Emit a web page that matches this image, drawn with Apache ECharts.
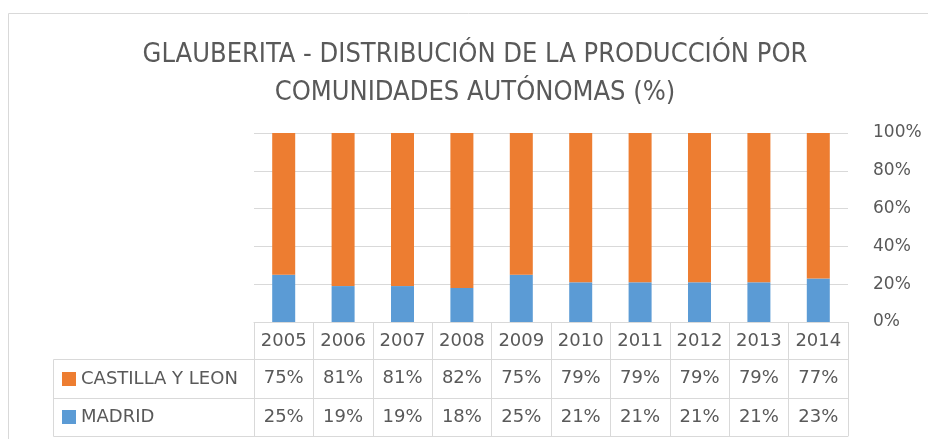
<!DOCTYPE html>
<html>
<head>
<meta charset="utf-8">
<script src="https://cdn.jsdelivr.net/npm/echarts@6/dist/echarts.min.js"></script>
<style>
  html, body { margin: 0; padding: 0; background: #fff; }
  #chart { width: 928px; height: 439px; }
</style>
</head>
<body>
<div id="chart"></div>
<script>
// datos
const years = ["2005", "2006", "2007", "2008", "2009", "2010", "2011", "2012", "2013", "2014"];
const madrid = [25, 19, 19, 18, 25, 21, 21, 21, 21, 23];
const castilla = [75, 81, 81, 82, 75, 79, 79, 79, 79, 77];
const yTicks = [0, 20, 40, 60, 80, 100];

const TXT = "#595959";
const LINE = "#d9d9d9";
const FONT = "DejaVu Sans";

const chart = echarts.init(document.getElementById("chart"));

// ejes x apilados hacia abajo para formar la tabla de datos
function tableAxis(offset, values, showTicks) {
  return {
    type: "category",
    data: years,
    position: "bottom",
    offset: offset,
    axisLine: { show: true, lineStyle: { color: LINE, width: 1 } },
    axisTick: {
      show: showTicks,
      length: 114,
      lineStyle: { color: LINE, width: 1 }
    },
    axisLabel: values
      ? {
          show: true,
          margin: 10,
          color: TXT,
          fontFamily: FONT,
          fontSize: 18,
          interval: 0,
          formatter: (v, i) => values[i]
        }
      : { show: false },
    splitLine: { show: false }
  };
}

chart.setOption({
  animation: false,
  color: ["#5B9BD5", "#ED7D31"],
  title: {
    text: "GLAUBERITA - DISTRIBUCIÓN DE LA PRODUCCIÓN POR\nCOMUNIDADES AUTÓNOMAS (%)",
    left: 470,
    top: 31,
    textAlign: "center",
    textStyle: {
      color: TXT,
      fontFamily: "DejaVu Sans Condensed",
      fontWeight: "normal",
      fontSize: 27,
      lineHeight: 38
    }
  },
  legend: {
    data: ["CASTILLA Y LEON", "MADRID"],
    orient: "vertical",
    left: 62,
    top: 370,
    padding: 0,
    itemWidth: 14,
    itemHeight: 14,
    itemGap: 20,
    icon: "rect",
    selectedMode: false,
    textStyle: { color: TXT, fontFamily: FONT, fontSize: 18, lineHeight: 18 }
  },
  grid: { left: 254, right: 80, top: 133, bottom: 117 },
  xAxis: [
    tableAxis(0, years, true),
    tableAxis(37, castilla.map(v => v + "%"), false),
    tableAxis(76, madrid.map(v => v + "%"), false),
    tableAxis(114, null, false)
  ],
  yAxis: {
    type: "value",
    position: "right",
    min: yTicks[0],
    max: yTicks[yTicks.length - 1],
    interval: 20,
    axisLine: { show: false },
    axisTick: { show: false },
    axisLabel: {
      margin: 25,
      color: TXT,
      fontFamily: FONT,
      fontSize: 17,
      padding: [5, 0, 0, 0],
      formatter: "{value}%"
    },
    splitLine: { lineStyle: { color: LINE, width: 1 } }
  },
  graphic: [
    // borde del área del gráfico
    {
      type: "rect",
      shape: { x: 8.5, y: 13.5, width: 1000, height: 600 },
      style: { fill: null, stroke: LINE, lineWidth: 1 },
      silent: true
    },
    // celdas de la leyenda
    {
      type: "rect",
      shape: { x: 53.5, y: 359.5, width: 201, height: 77 },
      style: { fill: null, stroke: LINE, lineWidth: 1 },
      silent: true
    },
    {
      type: "line",
      shape: { x1: 53.5, y1: 398.5, x2: 254.5, y2: 398.5 },
      style: { stroke: LINE, lineWidth: 1 },
      silent: true
    }
  ],
  series: [
    {
      name: "MADRID",
      type: "bar",
      stack: "total",
      barWidth: 23,
      data: madrid
    },
    {
      name: "CASTILLA Y LEON",
      type: "bar",
      stack: "total",
      barWidth: 23,
      data: castilla
    }
  ]
});
</script>
</body>
</html>
